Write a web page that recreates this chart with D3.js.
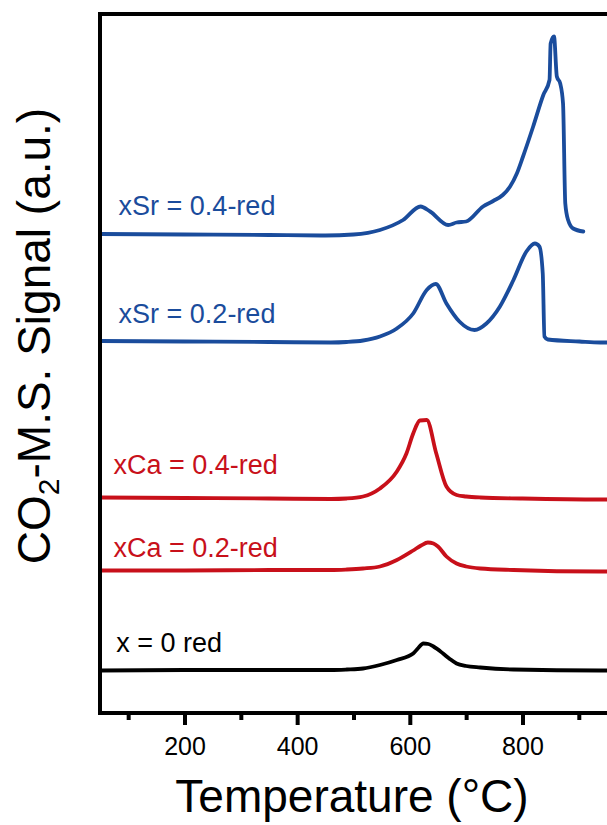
<!DOCTYPE html>
<html lang="en">
<head>
  <meta charset="UTF-8">
  <title>CO2-TPD profiles</title>
  <script src="https://d3js.org/d3.v7.min.js"></script>
  <style>
    body {
      margin: 0;
      background: white;
      font-family: 'Liberation Sans', Arial, sans-serif;
    }
    svg { display: block; }
    .trace {
      fill: none;
      stroke-width: 3.8px;
      stroke-linejoin: round;
      stroke-linecap: round;
    }
    .curve-label { font-size: 27px; }
  </style>
</head>
<body>

<svg width="607" height="825"></svg>

<script>
// Temperature (°C) / offset signal (a.u.) pairs
const x0Red = [
  [50, 0.85], [200, 0.86], [350, 0.86], [460, 0.86], [488, 0.87], [517, 0.89], [547, 0.96],
  [577, 1.06], [606, 1.19], [615, 1.30], [624, 1.39], [633, 1.38], [642, 1.33],
  [659, 1.19], [671, 1.08], [683, 0.99], [700, 0.94], [725, 0.91], [784, 0.87],
  [938, 0.85], [1000, 0.85]
];
const xCa02 = [
  [50, 2.85], [200, 2.85], [350, 2.86], [460, 2.86], [488, 2.87], [517, 2.89], [547, 2.93],
  [577, 3.06], [606, 3.25], [620, 3.35], [632, 3.41], [642, 3.39], [650, 3.33],
  [665, 3.13], [683, 2.99], [700, 2.93], [725, 2.89], [784, 2.86], [938, 2.83],
  [1000, 2.83]
];
const xCa04 = [
  [50, 4.31], [200, 4.30], [350, 4.29], [460, 4.28], [488, 4.29], [517, 4.33], [547, 4.49],
  [577, 4.83], [594, 5.19], [606, 5.59], [618, 5.85], [630, 5.86], [647, 5.19],
  [665, 4.53], [683, 4.36], [700, 4.33], [725, 4.31], [800, 4.29], [938, 4.27],
  [1000, 4.27]
];
const xSr02 = [
  [50, 7.44], [200, 7.43], [350, 7.42], [460, 7.41], [488, 7.42], [517, 7.45], [547, 7.53],
  [577, 7.69], [606, 7.99], [630, 8.46], [646, 8.58], [665, 8.19], [688, 7.83],
  [715, 7.66], [736, 7.79], [760, 8.13], [784, 8.66], [807, 9.23], [822, 9.39],
  [830, 9.33], [836, 8.79], [839, 7.53], [845, 7.47], [901, 7.43], [938, 7.41],
  [1000, 7.41]
];
const xSr04 = [
  [50, 9.58], [200, 9.57], [350, 9.56], [450, 9.55], [500, 9.57], [547, 9.66], [588, 9.86],
  [619, 10.13], [636, 10.03], [668, 9.76], [683, 9.81], [700, 9.83], [730, 10.13],
  [748, 10.24], [765, 10.36], [778, 10.53], [790, 10.79], [801, 11.13], [819, 11.73], [837, 12.36],
  [848, 12.66], [850, 13.39], [856, 13.53], [861, 12.73], [867, 12.59], [872, 12.19],
  [876, 10.19], [881, 9.86], [890, 9.69], [908, 9.63]
];

const seriesData = [x0Red, xCa02, xCa04, xSr02, xSr04];
const seriesNames = ["x = 0 red", "xCa = 0.2-red", "xCa = 0.4-red", "xSr = 0.2-red", "xSr = 0.4-red"];
const seriesColors = ["#000000", "#c8101a", "#c8101a", "#1a4c9c", "#1a4c9c"];
// label anchor: temperature and signal level
const labelT = [79, 74, 74, 83, 83];
const labelV = [1.23, 3.13, 4.79, 7.81, 9.96];

const majorTicks = [200, 400, 600, 800];
const minorTicks = [100, 300, 500, 700, 900];

const svg = d3.select("svg");

const plotLeft = 100, plotTop = 14, plotBottom = 713;

const x = d3.scaleLinear().domain([50, 1000]).range([plotLeft, plotLeft + 950 * 0.5633]);
const y = d3.scaleLinear().domain([0, 14]).range([plotBottom, plotBottom - 700]);

const line = d3.line()
  .x(d => x(d[0]))
  .y(d => y(d[1]))
  .curve(d3.curveMonotoneX);

// traces
svg.append("g")
  .selectAll("path")
  .data(seriesData)
  .join("path")
  .attr("class", "trace")
  .attr("stroke", (d, i) => seriesColors[i])
  .attr("d", line);

// labels
svg.append("g")
  .selectAll("text")
  .data(seriesNames)
  .join("text")
  .attr("class", "curve-label")
  .attr("x", (d, i) => x(labelT[i]))
  .attr("y", (d, i) => y(labelV[i]))
  .attr("fill", (d, i) => seriesColors[i])
  .text(d => d);

// frame (right side lies outside the picture)
svg.append("path")
  .attr("d", `M${x(1000)},${plotBottom}H${plotLeft}V${plotTop}H${x(1000)}`)
  .attr("fill", "none")
  .attr("stroke", "#000")
  .attr("stroke-width", 4);

// ticks
const xAxis = d3.axisBottom(x)
  .tickValues(majorTicks)
  .tickSize(12)
  .tickPadding(12)
  .tickFormat(d3.format("d"));

const gx = svg.append("g")
  .attr("transform", `translate(0,${plotBottom})`)
  .call(xAxis);
gx.select(".domain").remove();
gx.selectAll("line").attr("stroke-width", 4);
gx.selectAll("text")
  .attr("font-size", 25)
  .attr("font-family", "'Liberation Sans', Arial, sans-serif");

const gMinor = svg.append("g")
  .attr("transform", `translate(0,${plotBottom})`)
  .call(d3.axisBottom(x).tickValues(minorTicks).tickSize(7).tickFormat(""));
gMinor.select(".domain").remove();
gMinor.selectAll("line").attr("stroke-width", 4);

// axis titles
svg.append("text")
  .attr("x", 352)
  .attr("y", 812)
  .attr("text-anchor", "middle")
  .attr("font-size", 46)
  .text("Temperature (°C)");

const yTitle = svg.append("text")
  .attr("transform", "translate(50,336) rotate(-90)")
  .attr("text-anchor", "middle")
  .attr("font-size", 46);
yTitle.append("tspan").text("CO");
yTitle.append("tspan").attr("font-size", 30).attr("dy", 9).text("2");
yTitle.append("tspan").attr("dy", -9).text("-M.S. Signal (a.u.)");
</script>

</body>
</html>
